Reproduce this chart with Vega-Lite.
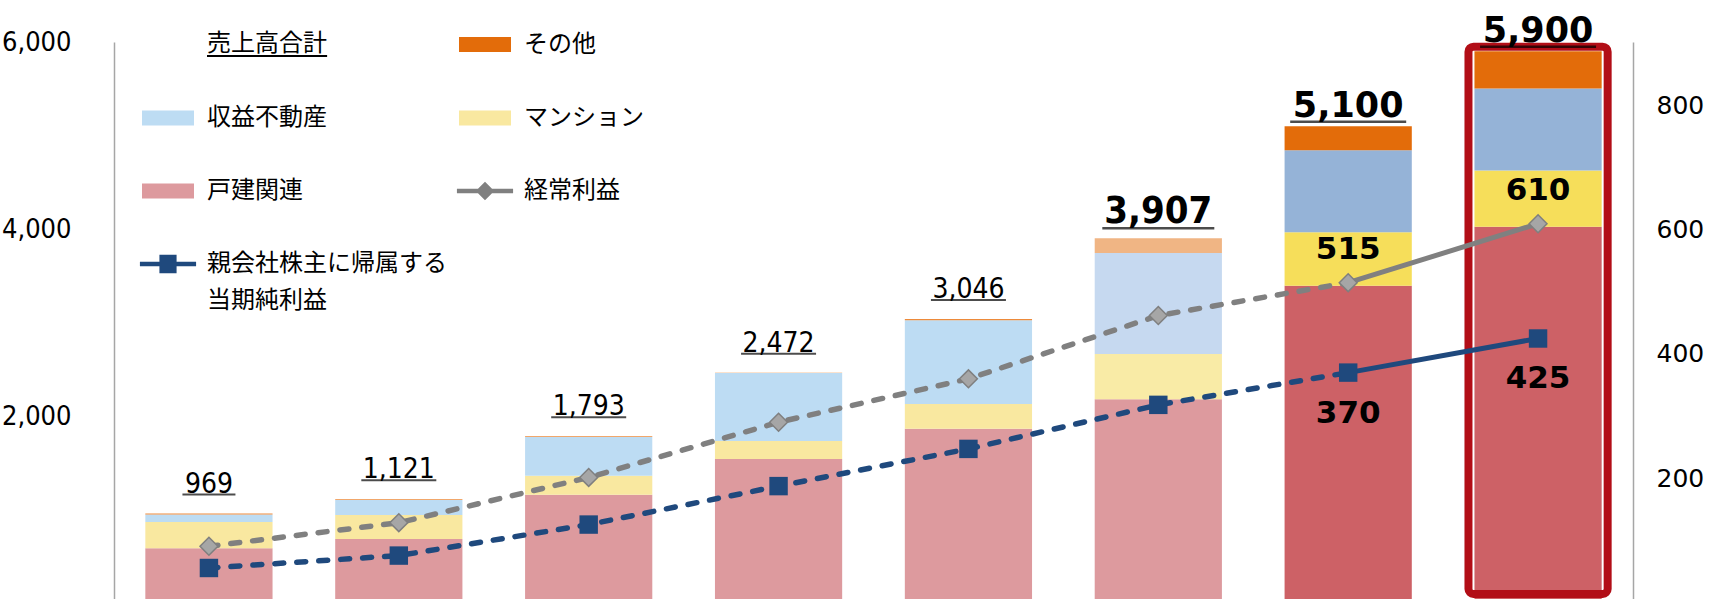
{
  "$schema": "https://vega.github.io/schema/vega-lite/v6.json",
  "width": 1519,
  "height": 557,
  "autosize": "none",
  "padding": {"left": 114, "top": 42, "right": 78, "bottom": 0},
  "background": "white",
  "config": {"view": {"stroke": null}, "font": "DejaVu Sans", "style": {"guide-label": {"lineHeight": 37}}},
  "datasets": {
    "sales": [
      {"year": "2013/9期", "phase": "実績", "segment": "戸建関連", "value": 600},
      {"year": "2013/9期", "phase": "実績", "segment": "マンション", "value": 280},
      {"year": "2013/9期", "phase": "実績", "segment": "収益不動産", "value": 80},
      {"year": "2013/9期", "phase": "実績", "segment": "その他", "value": 9},
      {"year": "2014/9期", "phase": "実績", "segment": "戸建関連", "value": 699},
      {"year": "2014/9期", "phase": "実績", "segment": "マンション", "value": 256},
      {"year": "2014/9期", "phase": "実績", "segment": "収益不動産", "value": 160},
      {"year": "2014/9期", "phase": "実績", "segment": "その他", "value": 6},
      {"year": "2015/9期", "phase": "実績", "segment": "戸建関連", "value": 1171},
      {"year": "2015/9期", "phase": "実績", "segment": "マンション", "value": 203},
      {"year": "2015/9期", "phase": "実績", "segment": "収益不動産", "value": 413},
      {"year": "2015/9期", "phase": "実績", "segment": "その他", "value": 6},
      {"year": "2016/9期", "phase": "実績", "segment": "戸建関連", "value": 1552},
      {"year": "2016/9期", "phase": "実績", "segment": "マンション", "value": 192},
      {"year": "2016/9期", "phase": "実績", "segment": "収益不動産", "value": 725},
      {"year": "2016/9期", "phase": "実績", "segment": "その他", "value": 3},
      {"year": "2017/9期", "phase": "実績", "segment": "戸建関連", "value": 1875},
      {"year": "2017/9期", "phase": "実績", "segment": "マンション", "value": 263},
      {"year": "2017/9期", "phase": "実績", "segment": "収益不動産", "value": 893},
      {"year": "2017/9期", "phase": "実績", "segment": "その他", "value": 15},
      {"year": "2018/9期", "phase": "直近実績", "segment": "戸建関連", "value": 2188},
      {"year": "2018/9期", "phase": "直近実績", "segment": "マンション", "value": 483},
      {"year": "2018/9期", "phase": "直近実績", "segment": "収益不動産", "value": 1077},
      {"year": "2018/9期", "phase": "直近実績", "segment": "その他", "value": 159},
      {"year": "2019/9期(計画)", "phase": "計画", "segment": "戸建関連", "value": 3400},
      {"year": "2019/9期(計画)", "phase": "計画", "segment": "マンション", "value": 570},
      {"year": "2019/9期(計画)", "phase": "計画", "segment": "収益不動産", "value": 875},
      {"year": "2019/9期(計画)", "phase": "計画", "segment": "その他", "value": 255},
      {"year": "2020/9期(計画)", "phase": "計画", "segment": "戸建関連", "value": 4030},
      {"year": "2020/9期(計画)", "phase": "計画", "segment": "マンション", "value": 600},
      {"year": "2020/9期(計画)", "phase": "計画", "segment": "収益不動産", "value": 875},
      {"year": "2020/9期(計画)", "phase": "計画", "segment": "その他", "value": 395}
    ],
    "totals": [
      {"year": "2013/9期", "phase": "実績", "total": 969},
      {"year": "2014/9期", "phase": "実績", "total": 1121},
      {"year": "2015/9期", "phase": "実績", "total": 1793},
      {"year": "2016/9期", "phase": "実績", "total": 2472},
      {"year": "2017/9期", "phase": "実績", "total": 3046},
      {"year": "2018/9期", "phase": "直近実績", "total": 3907},
      {"year": "2019/9期(計画)", "phase": "計画", "total": 5100},
      {"year": "2020/9期(計画)", "phase": "計画", "total": 5900}
    ],
    "profit": [
      {"year": "2013/9期", "series": "経常利益", "value": 90},
      {"year": "2014/9期", "series": "経常利益", "value": 128},
      {"year": "2015/9期", "series": "経常利益", "value": 201},
      {"year": "2016/9期", "series": "経常利益", "value": 290},
      {"year": "2017/9期", "series": "経常利益", "value": 360},
      {"year": "2018/9期", "series": "経常利益", "value": 462},
      {"year": "2019/9期(計画)", "series": "経常利益", "value": 515},
      {"year": "2020/9期(計画)", "series": "経常利益", "value": 610},
      {"year": "2013/9期", "series": "親会社株主に帰属する当期純利益", "value": 55},
      {"year": "2014/9期", "series": "親会社株主に帰属する当期純利益", "value": 75},
      {"year": "2015/9期", "series": "親会社株主に帰属する当期純利益", "value": 125},
      {"year": "2016/9期", "series": "親会社株主に帰属する当期純利益", "value": 187},
      {"year": "2017/9期", "series": "親会社株主に帰属する当期純利益", "value": 247},
      {"year": "2018/9期", "series": "親会社株主に帰属する当期純利益", "value": 318},
      {"year": "2019/9期(計画)", "series": "親会社株主に帰属する当期純利益", "value": 370},
      {"year": "2020/9期(計画)", "series": "親会社株主に帰属する当期純利益", "value": 425}
    ],
    "legendItems": [
      {"item": "売上高合計"},
      {"item": "その他"},
      {"item": "収益不動産"},
      {"item": "マンション"},
      {"item": "戸建関連"},
      {"item": "経常利益"},
      {"item": "親会社株主に帰属する当期純利益"}
    ]
  },
  "layer": [
    {
      "data": {"name": "sales"},
      "transform": [
        {"calculate": "datum.segment + '|' + datum.phase", "as": "key"},
        {"calculate": "indexof(['戸建関連','マンション','収益不動産','その他'], datum.segment)", "as": "rank"}
      ],
      "mark": {"type": "bar", "clip": true},
      "encoding": {
        "x": {"field": "year", "type": "nominal", "sort": null, "scale": {"paddingInner": 0.33, "paddingOuter": 0.165}, "axis": null},
        "y": {"field": "value", "type": "quantitative", "stack": "zero",
          "scale": {"domain": [58, 6000], "nice": false, "zero": false},
          "axis": {"orient": "left", "values": [2000, 4000, 6000], "format": ",d", "ticks": false, "tickSize": 0, "grid": false,
            "domainColor": "#a6a6a6", "domainWidth": 1.5, "labelFont": "DejaVu Sans Condensed, Liberation Sans Narrow, DejaVu Sans",
            "labelFontSize": 27, "labelColor": "#000000", "labelPadding": 43, "title": null}},
        "fill": {"field": "key", "type": "nominal", "legend": null,
          "scale": {
            "domain": ["戸建関連|実績", "マンション|実績", "収益不動産|実績", "その他|実績",
                       "戸建関連|直近実績", "マンション|直近実績", "収益不動産|直近実績", "その他|直近実績",
                       "戸建関連|計画", "マンション|計画", "収益不動産|計画", "その他|計画"],
            "range": ["#dd9a9e", "#f9e8a0", "#bddcf3", "#ed8a3a",
                      "#dd9a9e", "#f9eba6", "#c6d9f0", "#f0b584",
                      "#cd6166", "#f6de5a", "#95b3d7", "#e36c0a"]}},
        "order": {"field": "rank", "type": "quantitative", "sort": "ascending"}
      }
    },
    {
      "data": {"name": "totals"},
      "transform": [{"filter": "datum.year === '2020/9期(計画)'"}],
      "mark": {"type": "bar", "fill": "transparent", "stroke": "#b20e17", "strokeWidth": 8, "cornerRadius": 5, "width": {"band": 1.094}, "clip": true},
      "encoding": {
        "x": {"field": "year", "type": "nominal", "sort": null, "scale": {"paddingInner": 0.33, "paddingOuter": 0.165}, "axis": null},
        "y": {"datum": 5950, "type": "quantitative", "scale": {"domain": [58, 6000], "nice": false, "zero": false}, "axis": null},
        "y2": {"datum": 112}
      }
    },
    {
      "data": {"name": "totals"},
      "transform": [{"filter": "datum.phase === '実績'"}],
      "mark": {"type": "tick", "thickness": 2, "color": "#000000", "yOffset": -19, "orient": "horizontal"},
      "encoding": {
        "x": {"field": "year", "type": "nominal", "sort": null, "scale": {"paddingInner": 0.33, "paddingOuter": 0.165}, "axis": null},
        "y": {"field": "total", "type": "quantitative", "scale": {"domain": [58, 6000], "nice": false, "zero": false}, "axis": null},
        "size": {"condition": {"test": "datum.total < 1000", "value": 53}, "value": 75}
      }
    },
    {
      "data": {"name": "totals"},
      "transform": [{"filter": "datum.phase === '実績'"}],
      "mark": {"type": "text", "font": "DejaVu Sans Condensed, Liberation Sans Narrow, DejaVu Sans", "fontSize": 28, "color": "#000000", "baseline": "alphabetic", "dy": -21},
      "encoding": {
        "x": {"field": "year", "type": "nominal", "sort": null, "scale": {"paddingInner": 0.33, "paddingOuter": 0.165}, "axis": null},
        "y": {"field": "total", "type": "quantitative", "scale": {"domain": [58, 6000], "nice": false, "zero": false}, "axis": null},
        "text": {"field": "total", "type": "quantitative", "format": ","}
      }
    },
    {
      "data": {"name": "totals"},
      "transform": [{"filter": "datum.phase === '直近実績'"}],
      "mark": {"type": "tick", "thickness": 2.5, "color": "#000000", "yOffset": -10, "orient": "horizontal", "size": 112},
      "encoding": {
        "x": {"field": "year", "type": "nominal", "sort": null, "scale": {"paddingInner": 0.33, "paddingOuter": 0.165}, "axis": null},
        "y": {"field": "total", "type": "quantitative", "scale": {"domain": [58, 6000], "nice": false, "zero": false}, "axis": null}
      }
    },
    {
      "data": {"name": "totals"},
      "transform": [{"filter": "datum.phase === '直近実績'"}],
      "mark": {"type": "text", "font": "DejaVu Sans Condensed, Liberation Sans Narrow, DejaVu Sans", "fontWeight": "bold", "fontSize": 38, "color": "#000000", "baseline": "alphabetic", "dy": -15},
      "encoding": {
        "x": {"field": "year", "type": "nominal", "sort": null, "scale": {"paddingInner": 0.33, "paddingOuter": 0.165}, "axis": null},
        "y": {"field": "total", "type": "quantitative", "scale": {"domain": [58, 6000], "nice": false, "zero": false}, "axis": null},
        "text": {"field": "total", "type": "quantitative", "format": ","}
      }
    },
    {
      "data": {"name": "totals"},
      "transform": [{"filter": "datum.phase === '計画'"}],
      "mark": {"type": "tick", "thickness": 2.5, "color": "#000000", "yOffset": -4.5, "orient": "horizontal", "size": 116},
      "encoding": {
        "x": {"field": "year", "type": "nominal", "sort": null, "scale": {"paddingInner": 0.33, "paddingOuter": 0.165}, "axis": null},
        "y": {"field": "total", "type": "quantitative", "scale": {"domain": [58, 6000], "nice": false, "zero": false}, "axis": null}
      }
    },
    {
      "data": {"name": "totals"},
      "transform": [{"filter": "datum.phase === '計画'"}],
      "mark": {"type": "text", "font": "DejaVu Sans", "fontWeight": "bold", "fontSize": 35, "color": "#000000", "baseline": "alphabetic", "dy": -9},
      "encoding": {
        "x": {"field": "year", "type": "nominal", "sort": null, "scale": {"paddingInner": 0.33, "paddingOuter": 0.165}, "axis": null},
        "y": {"field": "total", "type": "quantitative", "scale": {"domain": [58, 6000], "nice": false, "zero": false}, "axis": null},
        "text": {"field": "total", "type": "quantitative", "format": ","}
      }
    },
    {
      "data": {"name": "profit"},
      "encoding": {
        "x": {"field": "year", "type": "nominal", "sort": null, "scale": {"paddingInner": 0.33, "paddingOuter": 0.165}, "axis": null},
        "y": {"field": "value", "type": "quantitative",
          "scale": {"domain": [5, 903], "nice": false, "zero": false},
          "axis": {"orient": "right", "values": [200, 400, 600, 800], "format": "d", "ticks": false, "tickSize": 0, "grid": false,
            "domainColor": "#a6a6a6", "domainWidth": 1.5, "labelFont": "DejaVu Sans", "labelFontSize": 25,
            "labelColor": "#000000", "labelPadding": 23, "title": null}}
      },
      "layer": [
        {
          "transform": [{"filter": "datum.year !== '2020/9期(計画)'"}],
          "mark": {"type": "line", "strokeWidth": 5.5, "strokeDash": [9, 13], "strokeCap": "round"},
          "encoding": {
            "stroke": {"field": "series", "type": "nominal", "legend": null,
              "scale": {"domain": ["経常利益", "親会社株主に帰属する当期純利益"], "range": ["#808080", "#1f497d"]}}
          }
        },
        {
          "transform": [{"filter": "indexof(datum.year, '計画') >= 0"}],
          "mark": {"type": "line", "strokeWidth": 5},
          "encoding": {
            "stroke": {"field": "series", "type": "nominal", "legend": null,
              "scale": {"domain": ["経常利益", "親会社株主に帰属する当期純利益"], "range": ["#808080", "#1f497d"]}}
          }
        },
        {
          "transform": [{"filter": "datum.series === '経常利益'"}],
          "mark": {"type": "point", "shape": "diamond", "size": 320, "filled": true, "fill": "#a6a6a6", "stroke": "#7f7f7f", "strokeWidth": 1.5, "opacity": 1}
        },
        {
          "transform": [{"filter": "datum.series !== '経常利益'"}],
          "mark": {"type": "point", "shape": "square", "size": 340, "filled": true, "color": "#1f497d", "opacity": 1}
        },
        {
          "transform": [{"filter": "datum.series === '経常利益' && indexof(datum.year, '計画') >= 0"}],
          "mark": {"type": "text", "font": "DejaVu Sans", "fontWeight": "bold", "fontSize": 31, "color": "#000000", "dy": -33},
          "encoding": {"text": {"field": "value", "type": "quantitative"}}
        },
        {
          "transform": [{"filter": "datum.series !== '経常利益' && indexof(datum.year, '計画') >= 0"}],
          "mark": {"type": "text", "font": "DejaVu Sans", "fontWeight": "bold", "fontSize": 31, "color": "#000000", "dy": 41},
          "encoding": {"text": {"field": "value", "type": "quantitative"}}
        }
      ]
    },
    {
      "data": {"name": "legendItems"},
      "mark": {"type": "square", "opacity": 0},
      "encoding": {
        "color": {"field": "item", "type": "nominal", "sort": null,
          "scale": {"domain": ["売上高合計", "その他", "収益不動産", "マンション", "戸建関連", "経常利益", "親会社株主に帰属する当期純利益"],
                    "range": ["#000000", "#e36c0a", "#bddcf3", "#f9e8a0", "#dd9a9e", "#808080", "#1f497d"]},
          "legend": {
            "orient": "none", "legendX": 28, "legendY": -24, "columns": 2, "direction": "horizontal",
            "title": null, "padding": 0, "symbolSize": 2704, "symbolStrokeWidth": 0, "symbolOpacity": 1,
            "labelFont": "Noto Sans CJK JP", "labelFontSize": 24, "labelColor": "#000000", "labelOffset": 13, "labelLimit": 400,
            "rowPadding": 35, "columnPadding": 9,
            "labelExpr": "datum.label === '親会社株主に帰属する当期純利益' ? ['親会社株主に帰属する', '当期純利益'] : datum.label",
            "symbolType": {"expr": "datum.value === '経常利益' ? 'M-1.08,-0.09L-0.27,-0.09L0,-0.36L0.27,-0.09L1.08,-0.09L1.08,0.09L0.27,0.09L0,0.36L-0.27,0.09L-1.08,0.09Z' : datum.value === '親会社株主に帰属する当期純利益' ? 'M-1.08,-0.09L-0.33,-0.09L-0.33,-0.36L0.33,-0.36L0.33,-0.09L1.08,-0.09L1.08,0.09L0.33,0.09L0.33,0.36L-0.33,0.36L-0.33,0.09L-1.08,0.09Z' : datum.value === '売上高合計' ? 'M1.5,0.42L6.12,0.42L6.12,0.5L1.5,0.5Z' : 'M-1,-0.29L1,-0.29L1,0.29L-1,0.29Z'"}
          }
        }
      }
    }
  ],
  "resolve": {"scale": {"y": "independent"}, "axis": {"y": "independent"}}
}
